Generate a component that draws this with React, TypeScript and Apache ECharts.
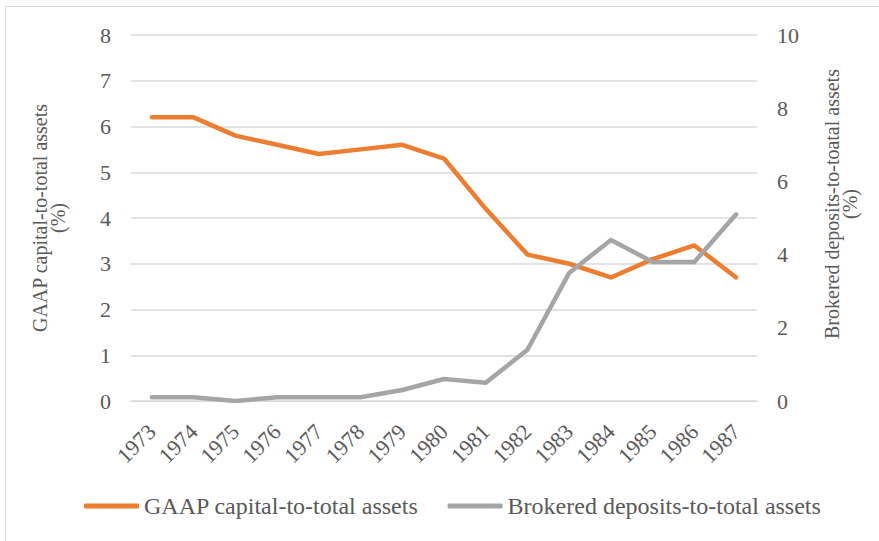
import React, { useEffect, useRef } from "react";
import * as echarts from "echarts";

const years = ["1973", "1974", "1975", "1976", "1977", "1978", "1979", "1980", "1981", "1982", "1983", "1984", "1985", "1986", "1987"];
const gaapCapital = [6.2, 6.2, 5.8, 5.6, 5.4, 5.5, 5.6, 5.3, 4.2, 3.2, 3.0, 2.7, 3.1, 3.4, 2.7];
const brokeredDeposits = [0.1, 0.1, 0.0, 0.1, 0.1, 0.1, 0.3, 0.6, 0.5, 1.4, 3.5, 4.4, 3.8, 3.8, 5.1];

const seriesNames = ["GAAP capital-to-total assets", "Brokered deposits-to-total assets"];
const leftAxisName = "GAAP capital-to-total assets\n(%)";
const rightAxisName = "Brokered deposits-to-toatal assets\n(%)";

const FONT = "Liberation Serif";
const TEXT = "#595959";

export default function App() {
  const ref = useRef<HTMLDivElement>(null);

  useEffect(() => {
    if (!ref.current) return;
    const chart = echarts.init(ref.current, null, { renderer: "svg" });
    chart.setOption({
      animation: false,
      textStyle: { fontFamily: FONT, color: TEXT },
      graphic: [
        {
          type: "rect",
          shape: { x: 5.5, y: 6.5, width: 900, height: 600 },
          style: { fill: "none", stroke: "#d9d9d9", lineWidth: 1 },
          silent: true,
        },
      ],
      grid: { left: 131, right: 122, top: 35, bottom: 140 },
      legend: {
        bottom: 18,
        left: 79,
        itemWidth: 55,
        itemHeight: 5,
        itemGap: 29,
        icon: "roundRect",
        textStyle: { fontFamily: FONT, color: TEXT, fontSize: 24, padding: [0, 0, 0, 0] },
        data: seriesNames,
      },
      xAxis: {
        type: "category",
        data: years,
        boundaryGap: true,
        axisLine: { show: true, lineStyle: { color: "#d9d9d9", width: 1 } },
        axisTick: { show: false },
        axisLabel: {
          rotate: 45,
          margin: 27,
          interval: 0,
          fontSize: 22,
          color: TEXT,
          fontFamily: FONT,
        },
      },
      yAxis: [
        {
          type: "value",
          min: 0,
          max: 8,
          interval: 1,
          name: leftAxisName,
          nameLocation: "middle",
          nameGap: 64,
          nameTextStyle: { fontFamily: FONT, color: TEXT, fontSize: 20, lineHeight: 18 },
          axisLine: { show: false },
          axisTick: { show: false },
          axisLabel: { margin: 20, fontSize: 22, color: TEXT, fontFamily: FONT },
          splitLine: { lineStyle: { color: "#d9d9d9", width: 1.5 } },
        },
        {
          type: "value",
          min: 0,
          max: 10,
          interval: 2,
          position: "right",
          name: rightAxisName,
          nameLocation: "middle",
          nameGap: 66,
          nameTextStyle: { fontFamily: FONT, color: TEXT, fontSize: 20, lineHeight: 18, padding: [0, 0, 0, 28] },
          axisLine: { show: false },
          axisTick: { show: false },
          axisLabel: { margin: 20, fontSize: 22, color: TEXT, fontFamily: FONT },
          splitLine: { show: false },
        },
      ],
      series: [
        {
          name: seriesNames[0],
          type: "line",
          data: gaapCapital,
          yAxisIndex: 0,
          showSymbol: false,
          symbol: "none",
          color: "#ED7D31",
          lineStyle: { color: "#ED7D31", width: 4.5, cap: "round", join: "round" },
        },
        {
          name: seriesNames[1],
          type: "line",
          data: brokeredDeposits,
          yAxisIndex: 1,
          showSymbol: false,
          symbol: "none",
          color: "#A5A5A5",
          lineStyle: { color: "#A5A5A5", width: 4.5, cap: "round", join: "round" },
        },
      ],
    });
    return () => chart.dispose();
  }, []);

  return <div ref={ref} style={{ width: 879, height: 541, position: "absolute", left: 0, top: 0 }} />;
}
